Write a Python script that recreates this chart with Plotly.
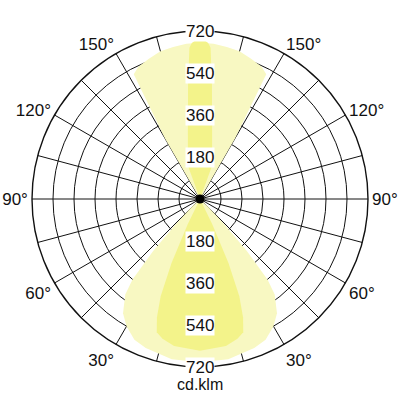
import plotly.graph_objects as go

# luminous intensity, cd/klm, vs. offset from the beam axis (deg)
up_wide_deg = [0, 5, 10, 15, 20, 25, 28, 30, 32]
up_wide_cd = [670, 668, 662, 655, 640, 625, 605, 300, 0]
up_narrow_deg = [0, 2, 3, 4, 5, 6, 8, 10, 14, 20, 30]
up_narrow_cd = [680, 678, 670, 650, 560, 490, 370, 300, 215, 150, 0]

down_wide_deg = [0, 10, 20, 25, 30, 34, 38, 40, 42, 44, 46, 48]
down_wide_cd = [700, 697, 680, 665, 630, 590, 520, 450, 300, 150, 50, 0]
down_narrow_deg = [0, 10, 15, 18, 20, 22, 24, 26, 28]
down_narrow_cd = [650, 640, 620, 600, 540, 450, 300, 120, 0]

ring_vals = [180, 360, 540, 720]
angle_labels = [30, 60, 90, 120, 150]

pale = "#f8f8c2"
dark = "#f3f38a"


def lobe(axis, offs, vals):
    # mirror one half of the curve around the beam axis
    th = [axis - o for o in offs[::-1]] + [axis + o for o in offs[1:]]
    r = vals[::-1] + vals[1:]
    return th, r


fig = go.Figure()

for axis, offs, vals, col in [
    (180, up_wide_deg, up_wide_cd, pale),
    (0, down_wide_deg, down_wide_cd, pale),
    (180, up_narrow_deg, up_narrow_cd, dark),
    (0, down_narrow_deg, down_narrow_cd, dark),
]:
    th, r = lobe(axis, offs, vals)
    fig.add_trace(go.Scatterpolar(
        r=r, theta=th, mode="lines", fill="toself",
        fillcolor=col, line=dict(width=0, color=col),
        hoverinfo="skip", showlegend=False
    ))

# black dot in the centre
fig.add_trace(go.Scatterpolar(r=[0], theta=[0], mode="markers",
                              marker=dict(color="black", size=9),
                              showlegend=False))

tickvals = list(range(0, 360, 15))
ticktext = []
for t in tickvals:
    a = t if t <= 180 else 360 - t
    ticktext.append(f"{a}°" if a in angle_labels and t % 30 == 0 else "")

dom_x = [0.08, 0.92]
dom_y = [0.0825, 0.9225]

fig.update_layout(
    width=400, height=400,
    margin=dict(l=0, r=0, t=0, b=0),
    paper_bgcolor="white", plot_bgcolor="white",
    font=dict(family="Liberation Sans, Arial", size=17, color="#111"),
    polar=dict(
        domain=dict(x=dom_x, y=dom_y),
        bgcolor="rgba(0,0,0,0)",
        radialaxis=dict(range=[0, 720], tickvals=list(range(90, 721, 90)),
                        showticklabels=False, ticks="", showline=False,
                        gridcolor="#111", gridwidth=1.2, layer="above traces"),
        angularaxis=dict(rotation=-90, direction="counterclockwise",
                         tickvals=tickvals, ticktext=ticktext, ticks="",
                         gridcolor="#111", gridwidth=1.2,
                         linecolor="#111", linewidth=1.4,
                         layer="above traces"),
    ),
    xaxis=dict(domain=dom_x, range=[-720, 720], visible=False),
    yaxis=dict(domain=dom_y, range=[-720, 720], visible=False),
)

for v in ring_vals:
    for s in (1, -1):
        fig.add_annotation(x=0, y=s * v, xref="x", yref="y", text=str(v),
                           showarrow=False, bgcolor="white", borderpad=0,
                           font=dict(size=17))

fig.add_annotation(x=0.5, y=0.04, xref="paper", yref="paper",
                   yanchor="middle", text="cd.klm", showarrow=False,
                   font=dict(size=16))

fig.write_html("out.html", config={"displayModeBar": False},
               post_script="document.body.style.margin='0';")
